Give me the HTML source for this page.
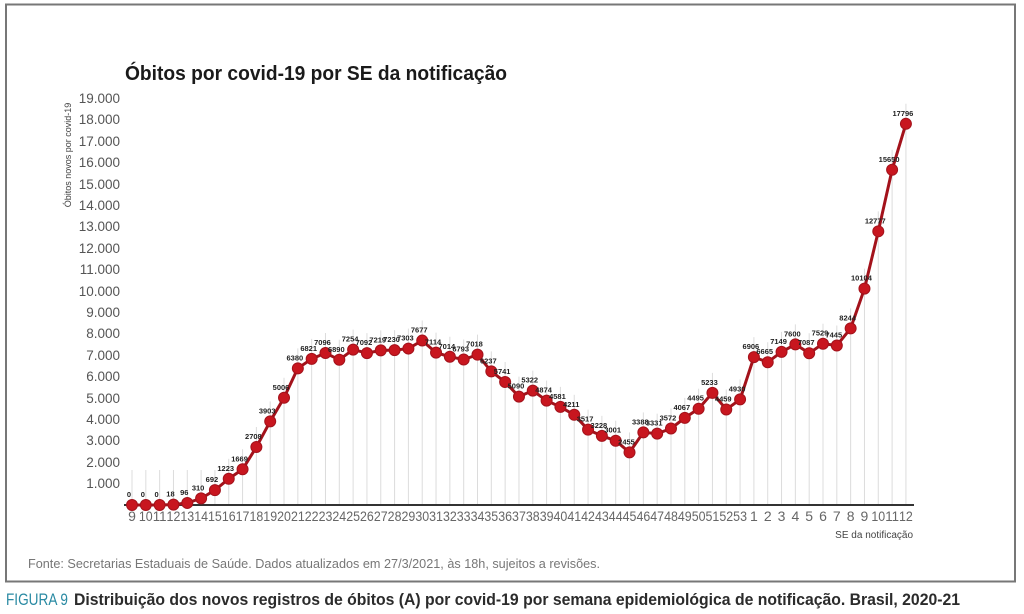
<!DOCTYPE html>
<html><head><meta charset="utf-8">
<style>
html,body{margin:0;padding:0;background:#fff;}
svg{display:block;font-family:"Liberation Sans",sans-serif;}
</style></head>
<body>
<svg id="s" width="1024" height="614" viewBox="0 0 1024 614">
<rect x="0" y="0" width="1024" height="614" fill="#fff"/>
<rect x="6" y="4.5" width="1009" height="577" fill="#fff" stroke="#777" stroke-width="2"/>
<text x="125" y="80" font-size="20" font-weight="bold" fill="#1a1a1a" textLength="382" lengthAdjust="spacingAndGlyphs">Óbitos por covid-19 por SE da notificação</text>
<text transform="translate(71,155) rotate(-90)" text-anchor="middle" font-size="9" fill="#444">Óbitos novos por covid-19</text>
<g id="grid"></g>
<g id="yl" font-size="13.5" fill="#555" text-anchor="end">
<text x="120" y="103">19.000</text><text x="120" y="124">18.000</text><text x="120" y="146">17.000</text><text x="120" y="167">16.000</text><text x="120" y="189">15.000</text><text x="120" y="210">14.000</text><text x="120" y="231">13.000</text><text x="120" y="253">12.000</text><text x="120" y="274">11.000</text><text x="120" y="296">10.000</text><text x="120" y="317">9.000</text><text x="120" y="338">8.000</text><text x="120" y="360">7.000</text><text x="120" y="381">6.000</text><text x="120" y="403">5.000</text><text x="120" y="424">4.000</text><text x="120" y="445">3.000</text><text x="120" y="467">2.000</text><text x="120" y="488">1.000</text>
</g>
<line x1="124" y1="505" x2="914" y2="505" stroke="#333" stroke-width="2"/>
<g id="series"></g>
<g id="dl" font-size="7.5" font-weight="bold" fill="#222" text-anchor="middle">
<text>0</text><text>0</text><text>0</text><text>18</text><text>96</text><text>310</text><text>692</text><text>1223</text><text>1669</text><text>2708</text><text>3903</text><text>5006</text><text>6380</text><text>6821</text><text>7096</text><text>6890</text><text>7254</text><text>7092</text><text>7219</text><text>7230</text><text>7303</text><text>7677</text><text>7114</text><text>7014</text><text>6793</text><text>7018</text><text>6237</text><text>5741</text><text>5090</text><text>5322</text><text>4874</text><text>4581</text><text>4211</text><text>3517</text><text>3228</text><text>3001</text><text>2455</text><text>3388</text><text>3331</text><text>3572</text><text>4067</text><text>4495</text><text>5233</text><text>4459</text><text>4930</text><text>6906</text><text>6665</text><text>7149</text><text>7600</text><text>7087</text><text>7529</text><text>7445</text><text>8244</text><text>10104</text><text>12777</text><text>15650</text><text>17796</text>
</g>
<g id="xl" font-size="14" fill="#666" text-anchor="middle">
<text>9</text><text>10</text><text>11</text><text>12</text><text>13</text><text>14</text><text>15</text><text>16</text><text>17</text><text>18</text><text>19</text><text>20</text><text>21</text><text>22</text><text>23</text><text>24</text><text>25</text><text>26</text><text>27</text><text>28</text><text>29</text><text>30</text><text>31</text><text>32</text><text>33</text><text>34</text><text>35</text><text>36</text><text>37</text><text>38</text><text>39</text><text>40</text><text>41</text><text>42</text><text>43</text><text>44</text><text>45</text><text>46</text><text>47</text><text>48</text><text>49</text><text>50</text><text>51</text><text>52</text><text>53</text><text>1</text><text>2</text><text>3</text><text>4</text><text>5</text><text>6</text><text>7</text><text>8</text><text>9</text><text>10</text><text>11</text><text>12</text>
</g>
<text x="913" y="538" font-size="10" fill="#444" text-anchor="end">SE da notificação</text>
<text x="28" y="568" font-size="12.5" fill="#777" textLength="572" lengthAdjust="spacingAndGlyphs">Fonte: Secretarias Estaduais de Saúde. Dados atualizados em 27/3/2021, às 18h, sujeitos a revisões.</text>
<text x="6" y="605" font-size="17" fill="#2a8aa3" textLength="62" lengthAdjust="spacingAndGlyphs">FIGURA 9</text>
<text x="74" y="605" font-size="17" font-weight="bold" fill="#2b2b2b" textLength="886" lengthAdjust="spacingAndGlyphs">Distribuição dos novos registros de óbitos (A) por covid-19 por semana epidemiológica de notificação. Brasil, 2020-21</text>
</svg>
<script>
var v=[0,0,0,18,96,310,692,1223,1669,2708,3903,5006,6380,6821,7096,6780,7254,7092,7219,7230,7303,7677,7114,6920,6793,7018,6237,5741,5060,5340,4874,4581,4211,3517,3228,3001,2455,3388,3331,3572,4067,4495,5233,4459,4930,6906,6665,7149,7500,7087,7529,7445,8244,10104,12777,15650,17796];
var NS="http://www.w3.org/2000/svg";
function X(i){return 132+13.82*i;}
function Y(val){return 505-val*0.02142;}
var g=document.getElementById('grid'),s=document.getElementById('series');
var pts=[];
for(var i=0;i<v.length;i++){
 var x=X(i),y=Y(v[i]);pts.push(x.toFixed(1)+','+y.toFixed(1));
 var l=document.createElementNS(NS,'line');
 l.setAttribute('x1',x);l.setAttribute('x2',x);l.setAttribute('y1',505);l.setAttribute('y2',Math.min(y-20,470));
 l.setAttribute('stroke','#dcdcdc');l.setAttribute('stroke-width','1');g.appendChild(l);
}
var pl=document.createElementNS(NS,'polyline');
pl.setAttribute('points',pts.join(' '));pl.setAttribute('fill','none');pl.setAttribute('stroke','#a3121b');pl.setAttribute('stroke-width','3');s.appendChild(pl);
for(var i=0;i<v.length;i++){
 var c=document.createElementNS(NS,'circle');c.setAttribute('cx',X(i));c.setAttribute('cy',Y(v[i]));c.setAttribute('r',5.5);
 c.setAttribute('fill','#c8161f');c.setAttribute('stroke','#a3121b');c.setAttribute('stroke-width','1');s.appendChild(c);
}
var dl=document.getElementById('dl').children;
for(var i=0;i<dl.length;i++){dl[i].setAttribute('x',X(i)-3);dl[i].setAttribute('y',Y(v[i])-8);}
var xl=document.getElementById('xl').children;
for(var i=0;i<xl.length;i++){xl[i].setAttribute('x',X(i));xl[i].setAttribute('y',521);
 if(xl[i].textContent.length>1){xl[i].setAttribute('textLength','13.8');xl[i].setAttribute('lengthAdjust','spacingAndGlyphs');}}
</script>
</body></html>
